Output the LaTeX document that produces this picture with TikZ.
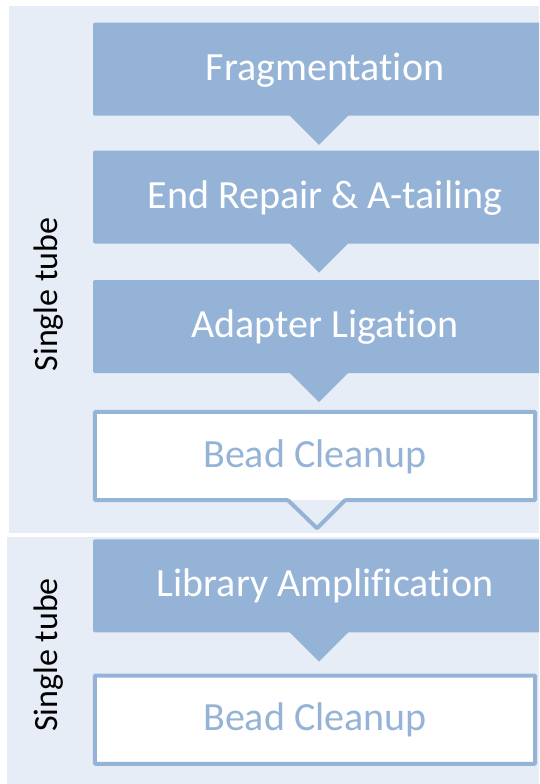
\documentclass[tikz,border=0pt]{standalone}
\usepackage{fontspec}
\setmainfont{Carlito}[Ligatures=NoCommon]
\usepackage{tikz}
\usetikzlibrary{calc}

\definecolor{stageblue}{HTML}{95B3D7}
\definecolor{tubebg}{HTML}{E7EDF6}

\tikzset{
    stage/.style={rectangle, fill=stageblue, text=white, rounded corners=2pt, inner sep=0pt, minimum width=464pt, minimum height=93pt, font=\fontsize{40}{44}\selectfont, text height=26pt, text depth=4pt},
    cleanup/.style={rectangle, fill=white, text=stageblue, inner sep=0pt, minimum width=440pt, minimum height=88pt, font=\fontsize{40}{44}\selectfont, text height=26pt, text depth=4pt},
    cleanline/.style={draw=stageblue, line width=4pt, rounded corners=1pt},
    pointer/.style={fill=stageblue},
    tube/.style={rotate=90, anchor=base, text=black, font=\fontsize{34}{40}\selectfont}
}

\begin{document}
\begin{tikzpicture}[x=1pt, y=-1pt]
        \useasboundingbox (0, 0) rectangle (539, 784);
        \clip (0, 0) rectangle (539, 784);

        % the two tube panels
        \fill[tubebg] (9.3, 6.2) rectangle (539, 532.7);
        \fill[tubebg] (6.7, 536.7) rectangle (539, 784);

        \draw (57, 294.5) node(tube1)[tube]{Single tube};
        \draw (57, 655) node(tube2)[tube]{Single tube};

        % first tube
        \draw (325, 69.2) node(frag)[stage]{Fragmentation};
        \draw (325, 197) node(repair)[stage]{End Repair \& A-tailing};
        \draw (325, 326.5) node(ligate)[stage]{Adapter Ligation};
        \draw (315, 456) node(clean1)[cleanup]{Bead Cleanup};

        \fill[pointer] ($(frag.south)+(-36,-1)$) -- ($(frag.south)+(-6,29)$) -- ($(frag.south)+(24,-1)$) -- cycle;
        \fill[pointer] ($(repair.south)+(-36,-1)$) -- ($(repair.south)+(-6,29)$) -- ($(repair.south)+(24,-1)$) -- cycle;
        \fill[pointer] ($(ligate.south)+(-36,-1)$) -- ($(ligate.south)+(-6,29)$) -- ($(ligate.south)+(24,-1)$) -- cycle;
        \draw[cleanline] (clean1.south west) -- ($(clean1.south)+(-27,0)$) -- ($(clean1.south)+(2,28)$) -- ($(clean1.south)+(30,0)$) -- (clean1.south east) -- (clean1.north east) -- (clean1.north west) -- cycle;

        % second tube
        \draw (325, 585.8) node(amp)[stage]{Library Amplification};
        \draw (315, 719.7) node(clean2)[cleanup]{Bead Cleanup};

        \fill[pointer] ($(amp.south)+(-36,-1)$) -- ($(amp.south)+(-6,29)$) -- ($(amp.south)+(24,-1)$) -- cycle;
        \draw[cleanline] (clean2.south west) -- (clean2.south east) -- (clean2.north east) -- (clean2.north west) -- cycle;
    \end{tikzpicture}
\end{document}
